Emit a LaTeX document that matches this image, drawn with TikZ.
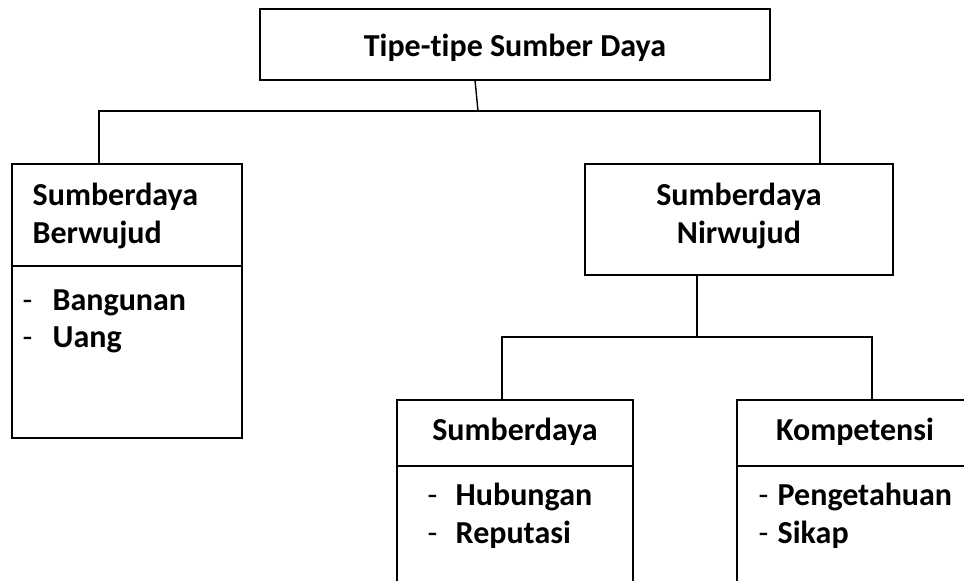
\documentclass[tikz,border=0pt]{standalone}
\usepackage{fontspec}
\setmainfont{Carlito}[Ligatures=NoCommon]
\begin{document}
\begin{tikzpicture}
      [x=1pt,y=-1pt,line width=1.4pt,
      box node/.style={rectangle,draw,line width=1.8pt,inner sep=0pt},
      text node/.style={inner sep=0pt,font=\fontsize{32}{38}\selectfont\bfseries},
      dash node/.style={inner sep=0pt,font=\fontsize{32}{38}\selectfont}]
      \useasboundingbox (0,0) rectangle (964,581);
      \clip (0,0) rectangle (964,581);
      % boxes
      \node[box node,minimum width=510pt,minimum height=71pt] (tipe) at (515,44.5) {};
      \node[box node,minimum width=230pt,minimum height=102pt] (berwujud) at (127,215) {};
      \node[box node,minimum width=230pt,minimum height=172pt] (berwujudisi) at (127,352) {};
      \node[box node,minimum width=308pt,minimum height=111pt] (nirwujud) at (739,219.5) {};
      \node[box node,minimum width=236pt,minimum height=66pt] (relasi) at (515,433) {};
      \node[box node,minimum width=236pt,minimum height=160pt] (relasiisi) at (515,546) {};
      \node[box node,minimum width=236pt,minimum height=66pt] (kompetensi) at (855,433) {};
      \node[box node,minimum width=236pt,minimum height=160pt] (kompetensiisi) at (855,546) {};
      % texts
      \node[text node,anchor=base] (ttipe) at (515,56) {Tipe-tipe Sumber Daya};
      \node[text node,anchor=base west] (tber1) at (32,205) {Sumberdaya};
      \node[text node,anchor=base west] (tber2) at (32,243) {Berwujud};
      \node[dash node,anchor=base west] (dber1) at (22,310) {-};
      \node[text node,anchor=base west] (iber1) at (52,310) {Bangunan};
      \node[dash node,anchor=base west] (dber2) at (22,347) {-};
      \node[text node,anchor=base west] (iber2) at (52,347) {Uang};
      \node[text node,anchor=base] (tnir1) at (739,205) {Sumberdaya};
      \node[text node,anchor=base] (tnir2) at (739,243) {Nirwujud};
      \node[text node,anchor=base] (trel) at (515,440) {Sumberdaya};
      \node[dash node,anchor=base west] (drel1) at (427,505) {-};
      \node[text node,anchor=base west] (irel1) at (455,505) {Hubungan};
      \node[dash node,anchor=base west] (drel2) at (427,543) {-};
      \node[text node,anchor=base west] (irel2) at (455,543) {Reputasi};
      \node[text node,anchor=base] (tkom) at (855,440) {Kompetensi};
      \node[dash node,anchor=base west] (dkom1) at (758,505) {-};
      \node[text node,anchor=base west] (ikom1) at (777,505) {Pengetahuan};
      \node[dash node,anchor=base west] (dkom2) at (758,543) {-};
      \node[text node,anchor=base west] (ikom2) at (777,543) {Sikap};
      % connectors
      \coordinate (t0) at (475,80);
      \coordinate (j1) at (478,111);
      \coordinate (bL) at (99,111);
      \coordinate (bR) at (820,111);
      \coordinate (n0) at (697,337);
      \coordinate (cL) at (502,337);
      \coordinate (cR) at (872,337);
      \draw (t0) -- (j1);
      \draw (bL |- berwujud.north) -- (bL) -- (bR) -- (bR |- nirwujud.north);
      \draw (n0 |- nirwujud.south) -- (n0);
      \draw (cL |- relasi.north) -- (cL) -- (cR) -- (cR |- kompetensi.north);
\end{tikzpicture}
\end{document}
